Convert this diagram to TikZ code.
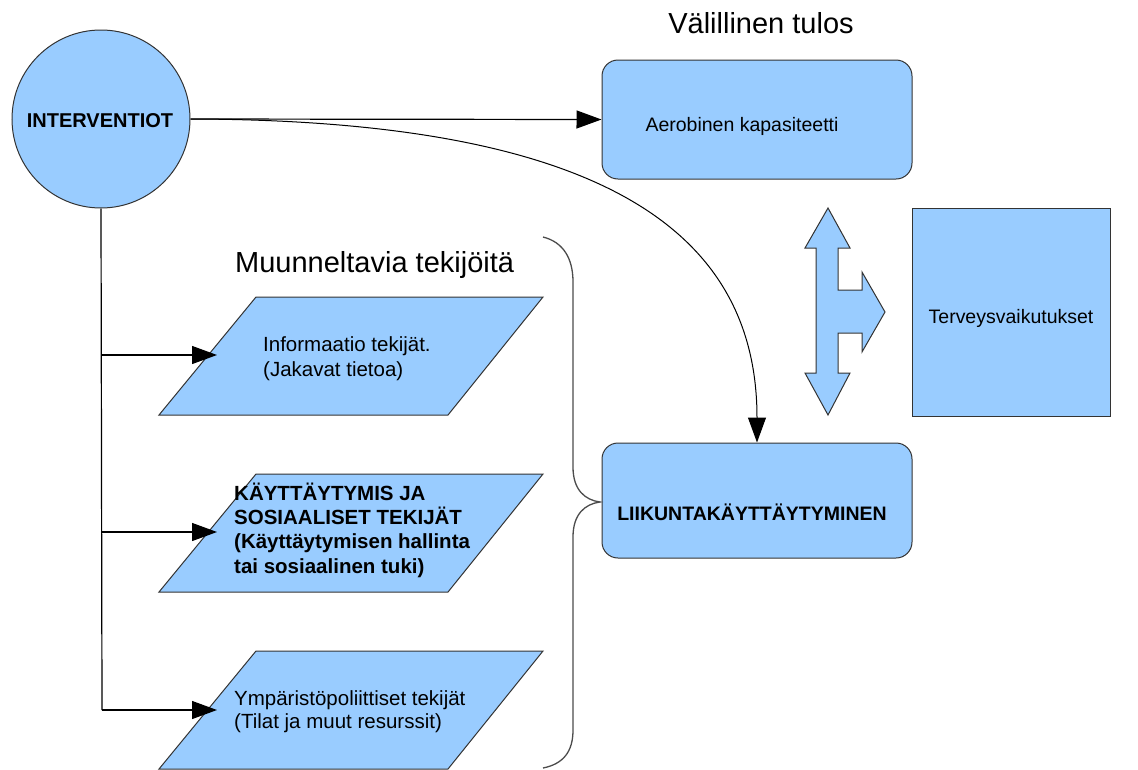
\documentclass[tikz,border=0pt]{standalone}
\usepackage{fontspec}
\setmainfont{Liberation Sans}
\usetikzlibrary{arrows.meta}
\definecolor{boxblue}{HTML}{99CCFF}
\definecolor{edgegray}{HTML}{333333}
\begin{document}
\begin{tikzpicture}[x=1pt,y=-1pt,
  shapefill/.style={fill=boxblue,draw=edgegray,line width=1pt},
  roundbox/.style={shapefill,rounded corners=16pt,minimum width=310pt,inner sep=0pt},
  conn/.style={draw=black,line width=1.2pt,-{Triangle[length=25pt,width=18pt]}},
  plain/.style={draw=black,line width=1.2pt},
  title/.style={font=\fontsize{29}{34}\selectfont,inner sep=0pt},
  bodytext/.style={font=\fontsize{19.5}{23}\selectfont,inner sep=0pt},
  paratext/.style={font=\fontsize{20.5}{24.3}\selectfont,inner sep=0pt,align=left,anchor=base west},
  bracestyle/.style={draw=black!70,line width=1.3pt}]
\useasboundingbox (0,0) rectangle (1138,769);

% circle
\node[shapefill,circle,minimum size=178pt,inner sep=0pt] (int) at (101,119) {};
\node[bodytext,font=\fontsize{20}{24}\selectfont\bfseries,anchor=base] (intlabel) at (100,127) {INTERVENTIOT};

% titles
\node[title,anchor=base] (t1) at (761,33) {Välillinen tulos};
\node[title,anchor=base west] (t2) at (235,272) {Muunneltavia tekijöitä};

% rounded boxes
\node[roundbox,minimum height=119pt] (aero) at (757,119.5) {};
\node[bodytext,anchor=base] (aerolabel) at (742,131) {Aerobinen kapasiteetti};
\node[roundbox,minimum height=115pt] (liik) at (757,500.5) {};
\node[bodytext,font=\fontsize{19.5}{23}\selectfont\bfseries,anchor=base] (liiklabel) at (752,520) {LIIKUNTAKÄYTTÄYTYMINEN};

% Terveys box
\node[shapefill,minimum width=198pt,minimum height=208pt,inner sep=0pt] (terv) at (1011,312) {};
\node[bodytext,anchor=base] (tervlabel) at (1011,323) {Terveysvaikutukset};

% three-way arrow shape
\draw[shapefill] (828,208) -- (850,248) -- (838,248) -- (838,290) -- (862,290) -- (862,272)
  -- (885,312) -- (862,352) -- (862,333) -- (838,333) -- (838,373) -- (850,373)
  -- (828,415) -- (805,373) -- (816,373) -- (816,248) -- (805,248) -- cycle;

% parallelograms
\draw[shapefill] (256,297) -- (543,297) -- (448,415) -- (159,415) -- cycle;
\draw[shapefill] (256,474) -- (543,474) -- (448,592) -- (159,592) -- cycle;
\draw[shapefill] (256,651) -- (543,651) -- (448,769) -- (159,769) -- cycle;

% multi-line nodes: base anchor sits on the last line's baseline
\node[paratext] (p1) at (263,376) {Informaatio tekijät.\\(Jakavat tietoa)};
\node[paratext,font=\fontsize{20.5}{24.3}\selectfont\bfseries] (p2) at (234,573) {KÄYTTÄYTYMIS JA\\SOSIAALISET TEKIJÄT\\(Käyttäytymisen hallinta\\tai sosiaalinen tuki)};
\node[paratext,font=\fontsize{20.5}{22.5}\selectfont] (p3) at (234,728) {Ympäristöpoliittiset tekijät\\(Tilat ja muut resurssit)};

% connectors
\coordinate (branch1) at (102,355);
\coordinate (branch2) at (102,532);
\coordinate (branch3) at (102,710);
\coordinate (tip1) at (217,355);
\coordinate (tip2) at (217,532);
\coordinate (tip3) at (217,710);
\draw[plain] (int.south) -- (branch3);
\draw[conn] (branch1) -- (tip1);
\draw[conn] (branch2) -- (tip2);
\draw[conn] (branch3) -- (tip3);
\draw[conn] (int.east) -- (aero.west);
\draw[draw=black,line width=1pt,-{Triangle[length=25pt,width=18pt]}] (int.east) .. controls (600,120) and (757,230) .. (liik.north);

% brace
\draw[bracestyle] (543,237) .. controls (563,242) and (573,258) .. (573,282) -- (573,467)
  .. controls (573,490) and (585,500) .. (600,502)
  .. controls (585,504) and (573,514) .. (573,537) -- (573,730)
  .. controls (573,752) and (563,764) .. (543,768);
\end{tikzpicture}
\end{document}
